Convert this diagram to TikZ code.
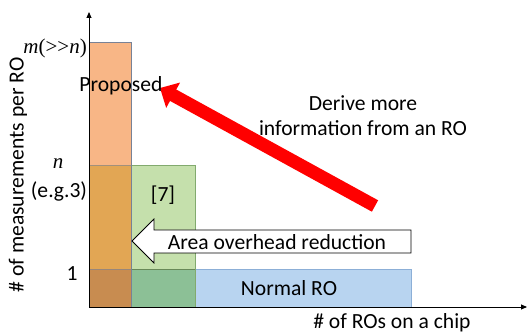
\documentclass[tikz,border=0pt]{standalone}
\usepackage{fontspec}
\setmainfont{Carlito}
\newfontfamily\tnr{Liberation Serif}
\usetikzlibrary{arrows.meta}
\definecolor{oA}{RGB}{248,182,134}
\definecolor{oB}{RGB}{226,166,84}
\definecolor{oC}{RGB}{200,140,80}
\definecolor{gA}{RGB}{197,224,172}
\definecolor{gB}{RGB}{140,192,150}
\definecolor{bA}{RGB}{184,212,240}
\definecolor{oLine}{RGB}{120,130,150}
\definecolor{gLine}{RGB}{130,170,110}
\definecolor{bLine}{RGB}{140,175,215}
\tikzset{
  lbl/.style={font=\fontsize{21.6}{25}\selectfont, inner sep=0pt},
  axis/.style={line width=0.9pt, -{Triangle[length=6pt,width=5pt]}},
}
\begin{document}
\begin{tikzpicture}[x=1pt,y=-1pt]
\useasboundingbox (0,0) rectangle (528,334);
% blue bar
\fill[bA] (89,269) rectangle (411,307);
\draw[bLine, line width=0.8pt] (89,269) rectangle (411,307);
% green bar
\fill[gA] (89,165) rectangle (195,269);
\fill[gB] (89,269) rectangle (195,307);
\draw[gLine, line width=0.8pt] (89,165) rectangle (195,307);
\draw[gLine!80!black, line width=0.6pt] (89,269) -- (195,269);
% orange bar
\fill[oA] (89,42) rectangle (131,165);
\fill[oB] (89,165) rectangle (131,269);
\fill[oC] (89,269) rectangle (131,307);
\draw[oLine, line width=0.8pt] (89,42) rectangle (131,307);
\draw[oLine!60!oB, line width=0.6pt] (89,165) -- (131,165);
\draw[oLine!60!oC, line width=0.6pt] (89,269) -- (131,269);
% axes
\coordinate (O) at (89,307);
\coordinate (Ytop) at (89,12);
\coordinate (Xend) at (527,307);
\draw[axis] (O) -- (Ytop);
\draw[axis] (O) -- (Xend);
% white arrow
\draw[fill=white, line width=0.8pt] (132,241) -- (154,219) -- (154,230) -- (411,230) -- (411,253) -- (154,253) -- (154,263) -- cycle;
\node[lbl] (area) at (277,242) {Area overhead reduction};
% red arrow
\coordinate (rtail) at (375,206);
\coordinate (rtip) at (160,88);
\draw[red, line width=13pt, -{Triangle[length=15pt,width=28pt]}] (rtail) -- (rtip);
% labels
\node[lbl] (prop) at (121,86) {Proposed};
\node[lbl] (ref7) at (163,195) {[7]};
\node[lbl] (norm) at (289,288) {Normal RO};
\node[lbl, align=center] (derive) at (363,116) {Derive more\\information from an RO};
\node[lbl] (xlab) at (392,323) {\# of ROs on a chip};
\node[lbl, rotate=90] (ylab) at (18,175) {\# of measurements per RO};
\node[lbl, anchor=east] (mlab) at (87,48) {\tnr\fontsize{21}{25}\selectfont\itshape m\upshape(>>\itshape n\upshape)};
\node[lbl] (nlab) at (58,164) {\tnr\fontsize{21}{25}\selectfont\itshape n};
\node[lbl] (eg) at (59,191) {(e.g.3)};
\node[lbl] (one) at (72,274) {1};
\end{tikzpicture}
\end{document}
